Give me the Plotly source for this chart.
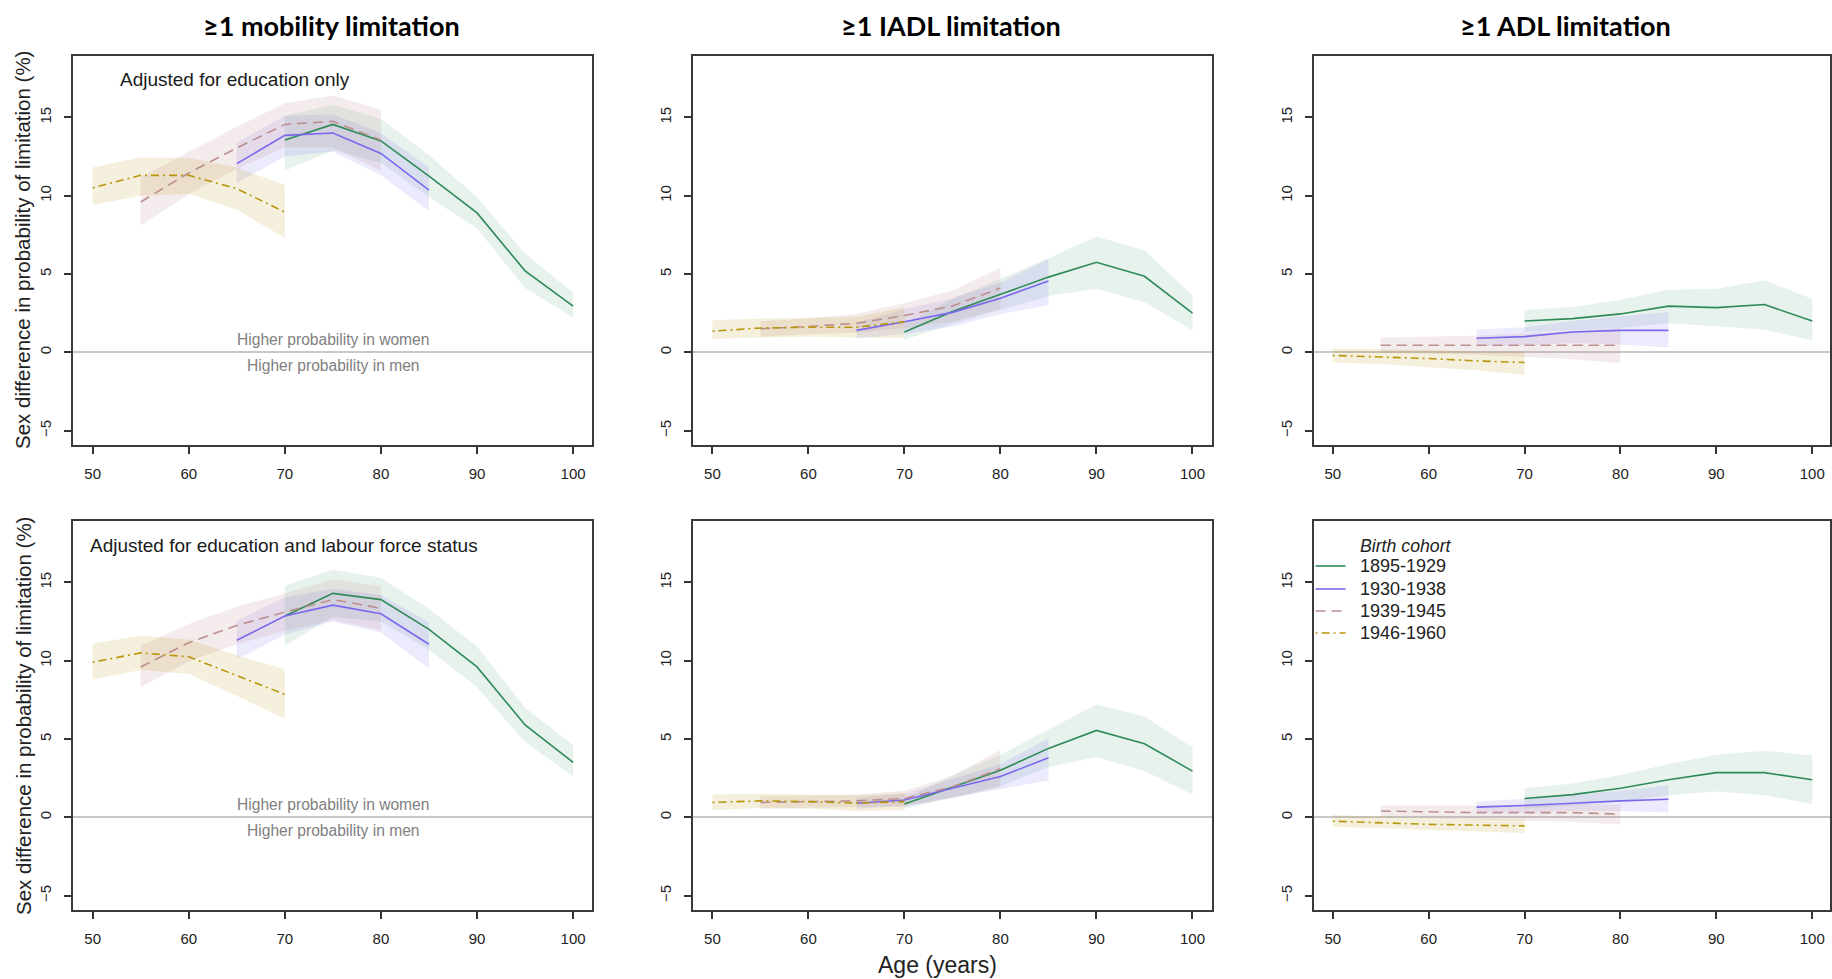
import plotly.graph_objects as go

W, H = 1832, 979

# ---------------- data ----------------
cohorts = ["1895-1929", "1930-1938", "1939-1945", "1946-1960"]
ages = {
    "1895-1929": [70, 75, 80, 85, 90, 95, 100],
    "1930-1938": [65, 70, 75, 80, 85],
    "1939-1945": [55, 60, 65, 70, 75, 80],
    "1946-1960": [50, 55, 60, 65, 70],
}
x_ticks = [50, 60, 70, 80, 90, 100]
y_ticks = [-5, 0, 5, 10, 15]

panel_titles = ["≥1 mobility limitation", "≥1 IADL limitation", "≥1 ADL limitation"]
row_notes = ["Adjusted for education only", "Adjusted for education and labour force status"]

# mobility, adjusted for education only
mob_edu_est = {"1895-1929": [13.55, 14.55, 13.5, 11.25, 8.9, 5.2, 2.95],
               "1930-1938": [12.05, 13.85, 14.0, 12.7, 10.35],
               "1939-1945": [9.6, 11.45, 13.05, 14.55, 14.75, 13.55],
               "1946-1960": [10.5, 11.3, 11.3, 10.45, 8.95]}
mob_edu_hi = {"1895-1929": [15.1, 15.8, 14.9, 12.6, 9.9, 6.3, 3.8],
              "1930-1938": [13.4, 15.1, 15.2, 14.0, 11.8],
              "1939-1945": [11.2, 12.8, 14.4, 15.9, 16.4, 15.5],
              "1946-1960": [11.8, 12.45, 12.4, 11.8, 10.7]}
mob_edu_lo = {"1895-1929": [11.6, 12.9, 12.1, 9.9, 7.9, 4.1, 2.2],
              "1930-1938": [10.8, 12.5, 12.8, 11.3, 9.0],
              "1939-1945": [8.1, 10.1, 11.7, 13.1, 13.1, 11.6],
              "1946-1960": [9.4, 10.0, 10.1, 9.1, 7.3]}

# IADL, adjusted for education only
iadl_edu_est = {"1895-1929": [1.3, 2.6, 3.7, 4.8, 5.75, 4.85, 2.5],
                "1930-1938": [1.4, 1.95, 2.55, 3.45, 4.55],
                "1939-1945": [1.5, 1.65, 1.85, 2.35, 2.95, 4.1],
                "1946-1960": [1.35, 1.55, 1.6, 1.6, 1.95]}
iadl_edu_hi = {"1895-1929": [1.8, 3.4, 4.7, 6.0, 7.4, 6.5, 3.65],
               "1930-1938": [1.9, 2.75, 3.45, 4.45, 5.95],
               "1939-1945": [2.0, 2.15, 2.45, 3.15, 3.95, 5.4],
               "1946-1960": [2.05, 2.15, 2.2, 2.25, 2.9]}
iadl_edu_lo = {"1895-1929": [0.8, 1.8, 2.7, 3.6, 4.05, 3.2, 1.4],
               "1930-1938": [0.9, 1.15, 1.65, 2.45, 3.0],
               "1939-1945": [1.0, 1.15, 1.25, 1.55, 1.95, 2.8],
               "1946-1960": [0.85, 0.95, 1.0, 0.95, 0.9]}

# ADL, adjusted for education only
adl_edu_est = {"1895-1929": [2.0, 2.15, 2.45, 2.95, 2.85, 3.05, 2.0],
               "1930-1938": [0.9, 1.0, 1.3, 1.4, 1.4],
               "1939-1945": [0.45, 0.45, 0.45, 0.45, 0.45, 0.45],
               "1946-1960": [-0.2, -0.3, -0.4, -0.55, -0.65]}
adl_edu_hi = {"1895-1929": [2.7, 2.9, 3.35, 4.0, 4.05, 4.6, 3.4],
              "1930-1938": [1.45, 1.6, 2.0, 2.3, 2.55],
              "1939-1945": [0.95, 1.0, 1.05, 1.2, 1.35, 1.55],
              "1946-1960": [0.25, 0.2, 0.15, 0.05, 0.05]}
adl_edu_lo = {"1895-1929": [1.3, 1.4, 1.55, 1.85, 1.65, 1.45, 0.75],
              "1930-1938": [0.4, 0.45, 0.6, 0.5, 0.3],
              "1939-1945": [-0.05, -0.1, -0.15, -0.3, -0.45, -0.7],
              "1946-1960": [-0.65, -0.75, -0.95, -1.15, -1.45]}

# mobility, adjusted for education and labour force status
mob_lab_est = {"1895-1929": [12.85, 14.3, 13.9, 12.0, 9.6, 5.9, 3.5],
               "1930-1938": [11.3, 12.85, 13.55, 13.0, 11.05],
               "1939-1945": [9.6, 11.15, 12.25, 13.1, 13.9, 13.35],
               "1946-1960": [9.9, 10.5, 10.25, 9.05, 7.85]}
mob_lab_hi = {"1895-1929": [14.8, 15.8, 15.3, 13.3, 10.9, 7.0, 4.6],
              "1930-1938": [12.55, 14.05, 14.6, 14.2, 12.45],
              "1939-1945": [10.95, 12.35, 13.45, 14.3, 15.2, 14.75],
              "1946-1960": [11.1, 11.6, 11.35, 10.35, 9.45]}
mob_lab_lo = {"1895-1929": [10.95, 12.8, 12.5, 10.7, 8.3, 4.8, 2.6],
              "1930-1938": [10.1, 11.65, 12.5, 11.8, 9.5],
              "1939-1945": [8.3, 9.95, 11.05, 11.9, 12.6, 11.95],
              "1946-1960": [8.8, 9.4, 9.15, 7.75, 6.3]}

# IADL, adjusted for education and labour force status
iadl_lab_est = {"1895-1929": [0.85, 1.95, 3.0, 4.4, 5.55, 4.7, 2.95],
                "1930-1938": [0.9, 1.1, 1.85, 2.6, 3.8],
                "1939-1945": [0.95, 1.0, 1.05, 1.2, 1.95, 3.1],
                "1946-1960": [0.95, 1.05, 1.0, 0.9, 1.0]}
iadl_lab_hi = {"1895-1929": [1.2, 2.65, 4.0, 5.6, 7.2, 6.45, 4.45],
               "1930-1938": [1.25, 1.5, 2.45, 3.4, 5.05],
               "1939-1945": [1.35, 1.4, 1.45, 1.7, 2.65, 4.3],
               "1946-1960": [1.45, 1.5, 1.45, 1.4, 1.55]}
iadl_lab_lo = {"1895-1929": [0.55, 1.25, 2.0, 3.2, 3.85, 2.95, 1.45],
               "1930-1938": [0.55, 0.7, 1.25, 1.8, 2.35],
               "1939-1945": [0.55, 0.6, 0.65, 0.7, 1.25, 1.9],
               "1946-1960": [0.45, 0.6, 0.55, 0.4, 0.45]}

# ADL, adjusted for education and labour force status
adl_lab_est = {"1895-1929": [1.2, 1.45, 1.85, 2.4, 2.85, 2.85, 2.4],
               "1930-1938": [0.65, 0.75, 0.9, 1.05, 1.15],
               "1939-1945": [0.4, 0.35, 0.3, 0.3, 0.3, 0.2],
               "1946-1960": [-0.25, -0.35, -0.45, -0.5, -0.55]}
adl_lab_hi = {"1895-1929": [1.85, 2.15, 2.7, 3.4, 4.0, 4.25, 3.95],
              "1930-1938": [1.0, 1.2, 1.4, 1.7, 2.05],
              "1939-1945": [0.75, 0.75, 0.75, 0.8, 0.85, 0.8],
              "1946-1960": [0.15, 0.05, -0.05, -0.1, -0.1]}
adl_lab_lo = {"1895-1929": [0.55, 0.75, 1.0, 1.4, 1.65, 1.4, 0.85],
              "1930-1938": [0.3, 0.3, 0.4, 0.4, 0.3],
              "1939-1945": [0.05, -0.05, -0.15, -0.2, -0.3, -0.45],
              "1946-1960": [-0.6, -0.7, -0.8, -0.9, -1.0]}

# ---------------- styles ----------------
line_color = {"1895-1929": "rgb(46,139,87)", "1930-1938": "rgb(123,104,238)",
              "1939-1945": "rgb(188,143,143)", "1946-1960": "rgb(184,150,11)"}
band_color = {"1895-1929": "rgba(46,139,87,0.11)", "1930-1938": "rgba(123,104,238,0.14)",
              "1939-1945": "rgba(188,143,143,0.17)", "1946-1960": "rgba(184,150,11,0.14)"}
line_dash = {"1895-1929": "solid", "1930-1938": "solid",
             "1939-1945": "10px,6px", "1946-1960": "2px,4px,8px,4px"}

panels = [
    (mob_edu_est, mob_edu_lo, mob_edu_hi),
    (iadl_edu_est, iadl_edu_lo, iadl_edu_hi),
    (adl_edu_est, adl_edu_lo, adl_edu_hi),
    (mob_lab_est, mob_lab_lo, mob_lab_hi),
    (iadl_lab_est, iadl_lab_lo, iadl_lab_hi),
    (adl_lab_est, adl_lab_lo, adl_lab_hi),
]

xdoms = [[73.5 / W, 593 / W], [694 / W, 1213 / W], [1315 / W, 1.0]]
xranges = [[48, 102], [48, 102], [48, 101.85]]
ydoms = [[1 - 445 / H, 1 - 56 / H], [1 - 910 / H, 1 - 521 / H]]
yrange = [-5.92, 18.92]

FONT = "Liberation Sans, Arial, sans-serif"

fig = go.Figure()

for i, (est, lo, hi) in enumerate(panels):
    ax = "" if i == 0 else str(i + 1)
    for c in cohorts:
        fig.add_trace(go.Scatter(
            x=ages[c] + ages[c][::-1], y=hi[c] + lo[c][::-1],
            fill="toself", fillcolor=band_color[c], line=dict(width=0),
            mode="lines", hoverinfo="skip", showlegend=False,
            xaxis="x" + ax, yaxis="y" + ax))
    for c in cohorts:
        fig.add_trace(go.Scatter(
            x=ages[c], y=est[c], mode="lines", name=c, legendgroup=c,
            line=dict(color=line_color[c], width=1.6, dash=line_dash[c]),
            showlegend=False, xaxis="x" + ax, yaxis="y" + ax))

layout = dict(
    width=W, height=H, margin=dict(l=0, r=0, t=0, b=0),
    paper_bgcolor="white", plot_bgcolor="white",
    font=dict(family=FONT, color="#222"),
    showlegend=False,
)

for i in range(6):
    ax = "" if i == 0 else str(i + 1)
    col, row = i % 3, i // 3
    common = dict(showgrid=False, showline=True, mirror=True, linecolor="#3a3a3a",
                  linewidth=2, ticks="outside", ticklen=7, tickwidth=1.5,
                  tickcolor="#333", tickfont=dict(family=FONT, size=15, color="#222"))
    layout["xaxis" + ax] = dict(domain=xdoms[col], range=xranges[col], anchor="y" + ax,
                                tickvals=x_ticks, zeroline=False, ticklabelstandoff=7,
                                **common)
    layout["yaxis" + ax] = dict(domain=ydoms[row], range=yrange, anchor="x" + ax,
                                tickvals=y_ticks, tickangle=-90, zeroline=True,
                                zerolinecolor="#c8c8c8", zerolinewidth=2,
                                ticklabelstandoff=7, **common)

fig.update_layout(**layout)

ann = []
title_x = [332, 952, 1567]
for t, xc in zip(panel_titles, title_x):
    ann.append(dict(text="<b>" + t + "</b>", x=xc / W, y=1 - 25 / H, xref="paper", yref="paper",
                    xanchor="center", yanchor="middle", showarrow=False,
                    font=dict(family="Lato, Noto Sans, sans-serif", size=27, color="#000")))

# row notes
ann.append(dict(text=row_notes[0], x=52.65, y=17.4, xref="x", yref="y", xanchor="left",
                yanchor="middle", showarrow=False, font=dict(family=FONT, size=19, color="#1a1a1a")))
ann.append(dict(text=row_notes[1], x=49.55, y=17.35, xref="x4", yref="y4", xanchor="left",
                yanchor="middle", showarrow=False, font=dict(family=FONT, size=19, color="#1a1a1a")))

for xr, yr in [("x", "y"), ("x4", "y4")]:
    ann.append(dict(text="Higher probability in women", x=75, y=0, xref=xr, yref=yr,
                    xanchor="center", yanchor="middle", yshift=12.5, showarrow=False,
                    font=dict(family=FONT, size=15.6, color="#808080")))
    ann.append(dict(text="Higher probability in men", x=75, y=0, xref=xr, yref=yr,
                    xanchor="center", yanchor="middle", yshift=-13.5, showarrow=False,
                    font=dict(family=FONT, size=15.6, color="#808080")))

for yc in [250, 716]:
    ann.append(dict(text="Sex difference in probability of limitation (%)", x=23 / W, y=1 - yc / H,
                    xref="paper", yref="paper", xanchor="center", yanchor="middle",
                    textangle=-90, showarrow=False, font=dict(family=FONT, size=20.5, color="#222")))

ann.append(dict(text="Age (years)", x=939 / W, y=1 - 965 / H, xref="paper", yref="paper",
                xanchor="center", yanchor="middle", showarrow=False,
                font=dict(family=FONT, size=23, color="#222")))

# legend (Birth cohort)
ann.append(dict(text="<i>Birth cohort</i>", x=1359 / W, y=1 - 546 / H, xref="paper", yref="paper",
                xanchor="left", yanchor="middle", showarrow=False,
                font=dict(family=FONT, size=17.7, color="#222")))
legend_rows = [566, 589, 611, 633]
shapes = []
for c, yr in zip(cohorts, legend_rows):
    shapes.append(dict(type="line", xref="paper", yref="paper", x0=1317 / W, x1=1347 / W,
                       y0=1 - yr / H, y1=1 - yr / H,
                       line=dict(color=line_color[c], width=1.6, dash=line_dash[c])))
    ann.append(dict(text=c, x=1359 / W, y=1 - yr / H, xref="paper", yref="paper",
                    xanchor="left", yanchor="middle", showarrow=False,
                    font=dict(family=FONT, size=18, color="#222")))

fig.update_layout(annotations=ann, shapes=shapes)
fig.write_html("out.html")
